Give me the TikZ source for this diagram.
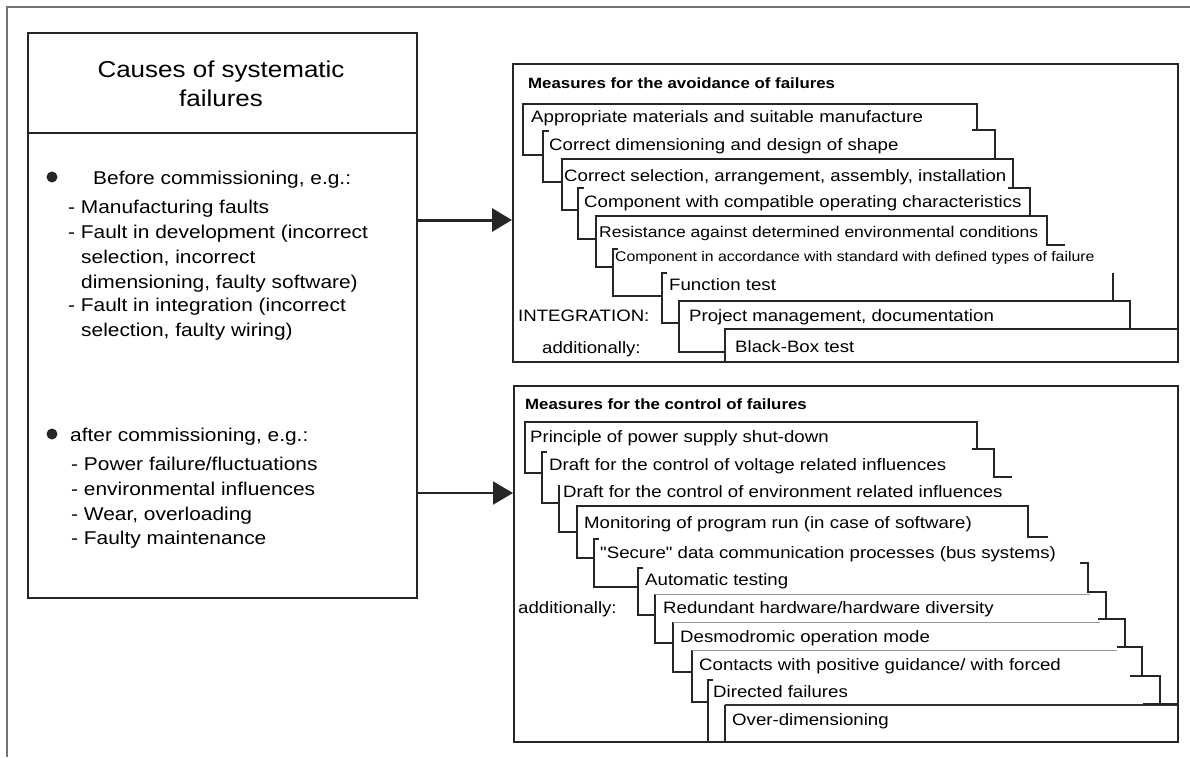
\documentclass[tikz,border=0pt]{standalone}
\usepackage{fontspec}
\setmainfont{Liberation Sans}[FakeStretch=1.13, Ligatures=TeXOff]
\usetikzlibrary{arrows.meta}
\newcommand{\rungfont}{\fontsize{16.5}{18}\selectfont}
\newcommand{\rungsmallfont}{\fontsize{14}{16}\selectfont}
\newcommand{\causefont}{\fontsize{18.5}{22}\selectfont}
\newcommand{\causeheadfont}{\fontsize{23}{28.7}\selectfont}
\newcommand{\measurefont}{\fontsize{14.9}{17}\selectfont\bfseries}

\tikzset{
  boxline/.style={draw=black!85, line width=2.3pt},
  stair/.style={draw=black!85, line width=2.6pt},
  hairline/.style={draw=black!40, line width=0.8pt},
  rung/.style={anchor=base west, inner sep=0pt, font=\rungfont},
  causeline/.style={anchor=base west, inner sep=0pt, font=\causefont},
  dot/.style={circle, fill=black!85, minimum size=11pt, inner sep=0pt},
  feed/.style={draw=black!85, -{Triangle[length=20pt,width=23pt]}}
}

\begin{document}
\begin{tikzpicture}[x=1pt,y=-1pt]
  \useasboundingbox (0,0) rectangle (1190,757);
  % outer frame
  \draw[black!55, line width=1.5pt] (7,757) -- (7,7) -- (1190,7);

  % causes box
  \node[boxline, anchor=north west, minimum width=389pt, minimum height=565pt, inner sep=0pt] (causes) at (27,32) {};
  \coordinate (sep) at (0,133);
  \draw[boxline] (causes.west |- sep) -- (causes.east |- sep);
  \node[font=\causeheadfont, align=center, inner sep=0pt] (causehead) at (221,84) {Causes of systematic\\failures};

  \node[dot] (dot1) at (52,177) {};
  \node[causeline] (pre) at (93,184.3) {Before commissioning, e.g.:};
  \node[causeline] (pre1) at (68,213.3) {- Manufacturing faults};
  \node[causeline] (pre2) at (68,238.3) {- Fault in development (incorrect};
  \node[causeline] (pre3) at (81,263.3) {selection, incorrect};
  \node[causeline] (pre4) at (81,288.3) {dimensioning, faulty software)};
  \node[causeline] (pre5) at (68,311.7) {- Fault in integration (incorrect};
  \node[causeline] (pre6) at (81,336.7) {selection, faulty wiring)};

  \node[dot] (dot2) at (52,434) {};
  \node[causeline] (post) at (70,441) {after commissioning, e.g.:};
  \node[causeline] (post1) at (71,470.7) {- Power failure/fluctuations};
  \node[causeline] (post2) at (71,495.7) {- environmental influences};
  \node[causeline] (post3) at (71,520) {- Wear, overloading};
  \node[causeline] (post4) at (71,544) {- Faulty maintenance};

  % measure boxes
  \node[boxline, anchor=north west, minimum width=665pt, minimum height=298pt, inner sep=0pt] (avoid) at (512,63) {};
  \node[boxline, anchor=north west, minimum width=664pt, minimum height=356pt, inner sep=0pt] (control) at (513,385) {};
  \node[anchor=base west, inner sep=0pt, font=\measurefont] (avoidhead) at (528,88.5) {Measures for the avoidance of failures};
  \node[anchor=base west, inner sep=0pt, font=\measurefont] (controlhead) at (525,409) {Measures for the control of failures};

  % arrows
  \coordinate (lvl1) at (0,220);
  \coordinate (lvl2) at (0,493);
  \draw[feed, line width=3pt] (causes.east |- lvl1) -- (avoid.west |- lvl1);
  \draw[feed, line width=2pt] (causes.east |- lvl2) -- (control.west |- lvl2);

  % avoidance staircase
  \draw[stair] (977,130) -- (977,104) -- (523,104) -- (523,155) -- (543,155);
  \draw[stair] (549,131) -- (543,131) -- (543,182) -- (562,182);
  \draw[stair] (972,130) -- (995,130) -- (995,159);
  \draw[stair] (1013,188) -- (1013,159) -- (562,159) -- (562,210) -- (578,210);
  \draw[stair] (584,188) -- (578,188) -- (578,239) -- (596,239);
  \draw[stair] (1008,188) -- (1030,188) -- (1030,216);
  \draw[stair] (1065,245) -- (1047,245) -- (1047,216) -- (596,216) -- (596,267) -- (613,267);
  \draw[stair] (618,249) -- (613,249) -- (613,296) -- (662,296);
  \draw[stair] (667,273) -- (662,273) -- (662,323) -- (679,323);
  \draw[stair] (1113,273) -- (1113,301);
  \draw[stair] (1130,329) -- (1130,301) -- (679,301) -- (679,352) -- (725,352);
  \draw[stair] (1177,329) -- (725,329) -- (725,361);

  \node[rung] (a1) at (531,122) {Appropriate materials and suitable manufacture};
  \node[rung] (a2) at (549,150) {Correct dimensioning and design of shape};
  \node[rung] (a3) at (564,181) {Correct selection, arrangement, assembly, installation};
  \node[rung] (a4) at (584,207) {Component with compatible operating characteristics};
  \node[rung, font=\fontsize{15.5}{18}\selectfont] (a5) at (599,237) {Resistance against determined environmental conditions};
  \node[rung, font=\rungsmallfont] (a6) at (615,261) {Component in accordance with standard with defined types of failure};
  \node[rung] (a7) at (669,290) {Function test};
  \node[rung] (a8) at (689,321) {Project management, documentation};
  \node[rung] (a9) at (735,352) {Black-Box test};
  \node[rung] (integ) at (518,321) {INTEGRATION:};
  \node[rung] (addA) at (542,353) {additionally:};

  % control staircase
  \draw[stair] (977,449) -- (977,422) -- (525,422) -- (525,473) -- (542,473);
  \draw[stair] (547,452) -- (542,452) -- (542,503) -- (559,503);
  \draw[stair] (972,449) -- (994,449) -- (994,477) -- (1012,477);
  \draw[stair] (559,485) -- (559,532) -- (577,532);
  \draw[stair] (1048,537) -- (1028,537) -- (1028,506) -- (577,506) -- (577,558) -- (594,558);
  \draw[stair] (599,539) -- (594,539) -- (594,587) -- (638,587);
  \draw[stair] (643,568) -- (638,568) -- (638,615) -- (655,615);
  \draw[stair] (655,594) -- (655,643) -- (673,643);
  \draw[stair] (673,622) -- (673,672) -- (692,672);
  \draw[stair] (692,650) -- (692,702) -- (708,702);
  \draw[stair] (713,680) -- (708,680) -- (708,741);
  \draw[stair] (725,705) -- (725,741);
  \draw[hairline] (655,594) -- (1090,594);
  \draw[hairline] (673,622) -- (1100,622);
  \draw[hairline] (692,650) -- (1117,650);
  \draw[draw=black!80, line width=1.4pt] (725,705) -- (1177,705);
  \draw[stair] (1080,563) -- (1088,563) -- (1088,592) -- (1106,592) -- (1106,619) -- (1125,619)
    -- (1125,647) -- (1142,647) -- (1142,676) -- (1160,676) -- (1160,704) -- (1177,704);
  \draw[stair] (1098,619) -- (1106,619);
  \draw[stair] (1117,647) -- (1125,647);
  \draw[stair] (1130,676) -- (1142,676);
  \draw[stair] (1143,704) -- (1160,704);

  \node[rung] (c1) at (530,442) {Principle of power supply shut-down};
  \node[rung] (c2) at (549,470) {Draft for the control of voltage related influences};
  \node[rung] (c3) at (563,497) {Draft for the control of environment related influences};
  \node[rung] (c4) at (584,528) {Monitoring of program run (in case of software)};
  \node[rung] (c5) at (600,558) {"Secure" data communication processes (bus systems)};
  \node[rung] (c6) at (645,585) {Automatic testing};
  \node[rung] (c7) at (663,613) {Redundant hardware/hardware diversity};
  \node[rung] (c8) at (680,642) {Desmodromic operation mode};
  \node[rung] (c9) at (699,670) {Contacts with positive guidance/ with forced};
  \node[rung] (c10) at (713,697) {Directed failures};
  \node[rung] (c11) at (732,725) {Over-dimensioning};
  \node[rung] (addC) at (518,613) {additionally:};
\end{tikzpicture}
\end{document}
